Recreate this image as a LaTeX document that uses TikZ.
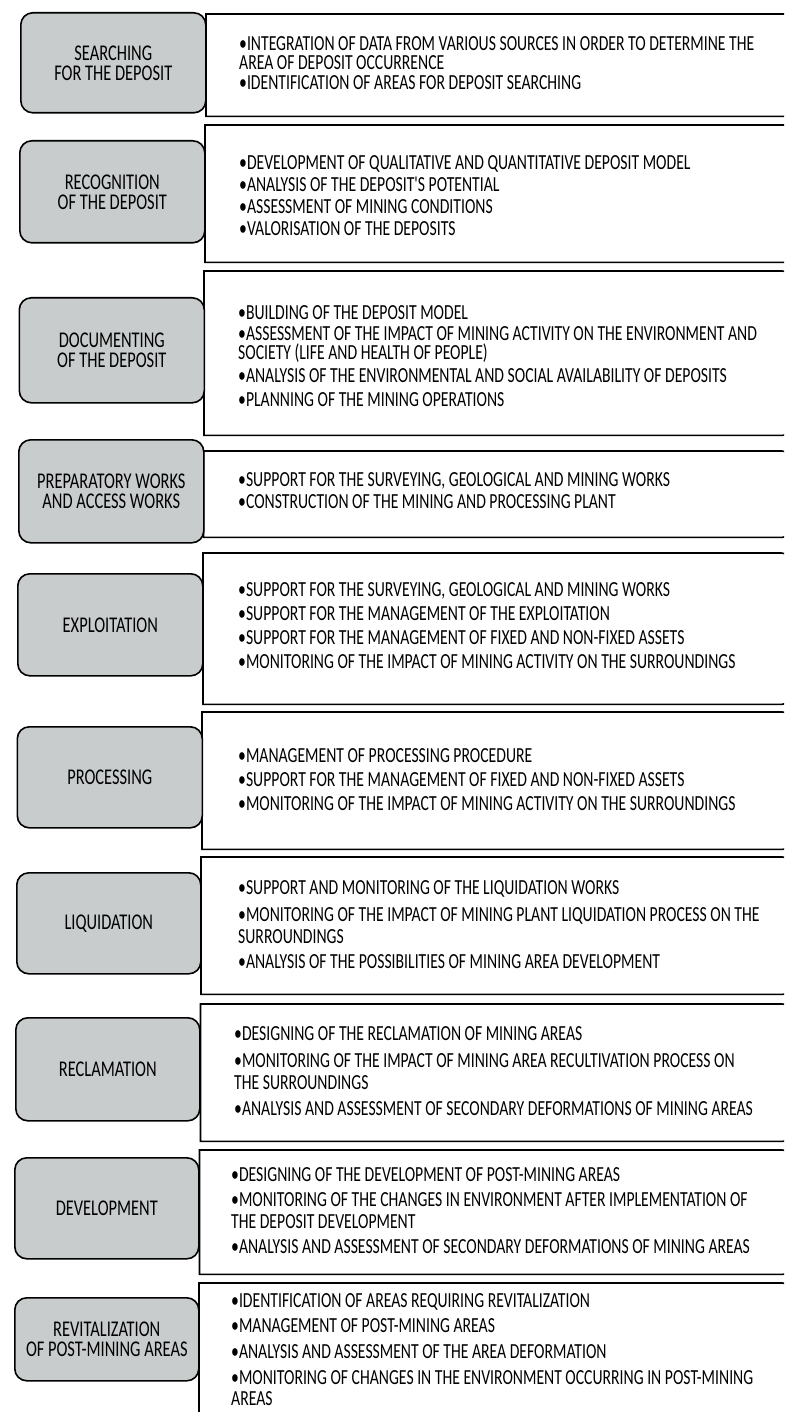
\documentclass[tikz,border=0pt]{standalone}
\usepackage{fontspec}
\newfontfamily\cfont[FakeStretch=0.73]{Carlito}
\definecolor{boxgray}{RGB}{200,204,204}
\newcommand{\RBox}[5]{% name, left x, top y, height, width
  \node[rbox, minimum height=#4pt, minimum width=#5pt] (#1) at (#2,#3) {};
  \draw[rline] (#1.north west) -- ([xshift=-10pt]#1.north east)
    arc[start angle=90,end angle=0,radius=10pt] -- ([yshift=10pt]#1.south east)
    arc[start angle=0,end angle=-90,radius=10pt] -- (#1.south west) -- cycle;}
\begin{document}
\begin{tikzpicture}[x=1pt,y=-1pt,
  lbox/.style={draw=black, line width=1.6pt, fill=boxgray, rounded corners=12pt,
    anchor=north west, align=center, inner sep=0pt,
    font=\cfont\fontsize{22.5}{20}\selectfont},
  rbox/.style={fill=white, anchor=north west, inner sep=0pt},
  rline/.style={line width=1.6pt, draw=black},
  rtext/.style={anchor=west, align=left, inner sep=0pt,
    font=\cfont\fontsize{21.5}{19}\selectfont}]
\useasboundingbox (0,0) rectangle (784,1412);
\clip (0,0) rectangle (784,1412);
\fill[white] (0,0) rectangle (784,1412);

% row 1
\RBox{r1}{206}{14}{102}{620}
\node[lbox, minimum width=185pt, minimum height=100pt] (l1) at (20,12) {SEARCHING\\FOR THE DEPOSIT};
\node[rtext] (t1) at (239,63) {\textbullet INTEGRATION OF DATA FROM VARIOUS SOURCES IN ORDER TO DETERMINE THE\\
AREA OF DEPOSIT OCCURRENCE\\[1pt]
\textbullet IDENTIFICATION OF AREAS FOR DEPOSIT SEARCHING};

% row 2
\RBox{r2}{205}{125}{137}{620}
\node[lbox, minimum width=185pt, minimum height=102pt] (l2) at (19,140) {RECOGNITION\\OF THE DEPOSIT};
\node[rtext] (t2) at (239,196) {\textbullet DEVELOPMENT OF QUALITATIVE AND QUANTITATIVE DEPOSIT MODEL\\[3pt]
\textbullet ANALYSIS OF THE DEPOSIT'S POTENTIAL\\[3pt]
\textbullet ASSESSMENT OF MINING CONDITIONS\\[3pt]
\textbullet VALORISATION OF THE DEPOSITS};

% row 3
\RBox{r3}{204}{271}{164}{588}
\node[lbox, minimum width=185pt, minimum height=105pt] (l3) at (18.5,297) {DOCUMENTING\\OF THE DEPOSIT};
\node[rtext] (t3) at (238,356) {\textbullet BUILDING OF THE DEPOSIT MODEL\\[2pt]
\textbullet ASSESSMENT OF THE IMPACT OF MINING ACTIVITY ON THE ENVIRONMENT AND\\
SOCIETY (LIFE AND HEALTH OF PEOPLE)\\[4pt]
\textbullet ANALYSIS OF THE ENVIRONMENTAL AND SOCIAL AVAILABILITY OF DEPOSITS\\[5pt]
\textbullet PLANNING OF THE MINING OPERATIONS};

% row 4
\RBox{r4}{203.5}{451}{86}{588}
\node[lbox, minimum width=185pt, minimum height=103pt] (l4) at (18,439) {PREPARATORY WORKS\\AND ACCESS WORKS};
\node[rtext] (t4) at (238,491) {\textbullet SUPPORT FOR THE SURVEYING, GEOLOGICAL AND MINING WORKS\\[3pt]
\textbullet CONSTRUCTION OF THE MINING AND PROCESSING PLANT};

% row 5
\RBox{r5}{203}{553}{151}{588}
\node[lbox, minimum width=185pt, minimum height=102pt] (l5) at (17,573) {EXPLOITATION};
\node[rtext] (t5) at (238,626) {\textbullet SUPPORT FOR THE SURVEYING, GEOLOGICAL AND MINING WORKS\\[5pt]
\textbullet SUPPORT FOR THE MANAGEMENT OF THE EXPLOITATION\\[5pt]
\textbullet SUPPORT FOR THE MANAGEMENT OF FIXED AND NON-FIXED ASSETS\\[5pt]
\textbullet MONITORING OF THE IMPACT OF MINING ACTIVITY ON THE SURROUNDINGS};

% row 6
\RBox{r6}{202}{712}{137}{590}
\node[lbox, minimum width=185pt, minimum height=101pt] (l6) at (16.5,726) {PROCESSING};
\node[rtext] (t6) at (238,780) {\textbullet MANAGEMENT OF PROCESSING PROCEDURE\\[5pt]
\textbullet SUPPORT FOR THE MANAGEMENT OF FIXED AND NON-FIXED ASSETS\\[5pt]
\textbullet MONITORING OF THE IMPACT OF MINING ACTIVITY ON THE SURROUNDINGS};

% row 7
\RBox{r7}{201}{857}{137}{591}
\node[lbox, minimum width=184pt, minimum height=101pt] (l7) at (16,872) {LIQUIDATION};
\node[rtext] (t7) at (238,925) {\textbullet SUPPORT AND MONITORING OF THE LIQUIDATION WORKS\\[8pt]
\textbullet MONITORING OF THE IMPACT OF MINING PLANT LIQUIDATION PROCESS ON THE\\[3pt]
SURROUNDINGS\\[6pt]
\textbullet ANALYSIS OF THE POSSIBILITIES OF MINING AREA DEVELOPMENT};

% row 8
\RBox{r8}{200.5}{1004}{137}{591.5}
\node[lbox, minimum width=184pt, minimum height=103pt] (l8) at (15,1017) {RECLAMATION};
\node[rtext] (t8) at (234,1071) {\textbullet DESIGNING OF THE RECLAMATION OF MINING AREAS\\[8pt]
\textbullet MONITORING OF THE IMPACT OF MINING AREA RECULTIVATION PROCESS ON\\[3pt]
THE SURROUNDINGS\\[7pt]
\textbullet ANALYSIS AND ASSESSMENT OF SECONDARY DEFORMATIONS OF MINING AREAS};

% row 9
\RBox{r9}{199.5}{1150}{124}{592.5}
\node[lbox, minimum width=184pt, minimum height=101pt] (l9) at (14,1157) {DEVELOPMENT};
\node[rtext] (t9) at (231,1211) {\textbullet DESIGNING OF THE DEVELOPMENT OF POST-MINING AREAS\\[6pt]
\textbullet MONITORING OF THE CHANGES IN ENVIRONMENT AFTER IMPLEMENTATION OF\\[3pt]
THE DEPOSIT DEVELOPMENT\\[6pt]
\textbullet ANALYSIS AND ASSESSMENT OF SECONDARY DEFORMATIONS OF MINING AREAS};

% row 10
\RBox{r10}{199}{1283}{142}{593}
\node[lbox, minimum width=184pt, minimum height=83pt] (l10) at (14,1297) {REVITALIZATION\\OF POST-MINING AREAS};
\node[rtext] (t10) at (231,1350) {\textbullet IDENTIFICATION OF AREAS REQUIRING REVITALIZATION\\[6pt]
\textbullet MANAGEMENT OF POST-MINING AREAS\\[7pt]
\textbullet ANALYSIS AND ASSESSMENT OF THE AREA DEFORMATION\\[7pt]
\textbullet MONITORING OF CHANGES IN THE ENVIRONMENT OCCURRING IN POST-MINING\\[2pt]
AREAS};
\end{tikzpicture}
\end{document}
